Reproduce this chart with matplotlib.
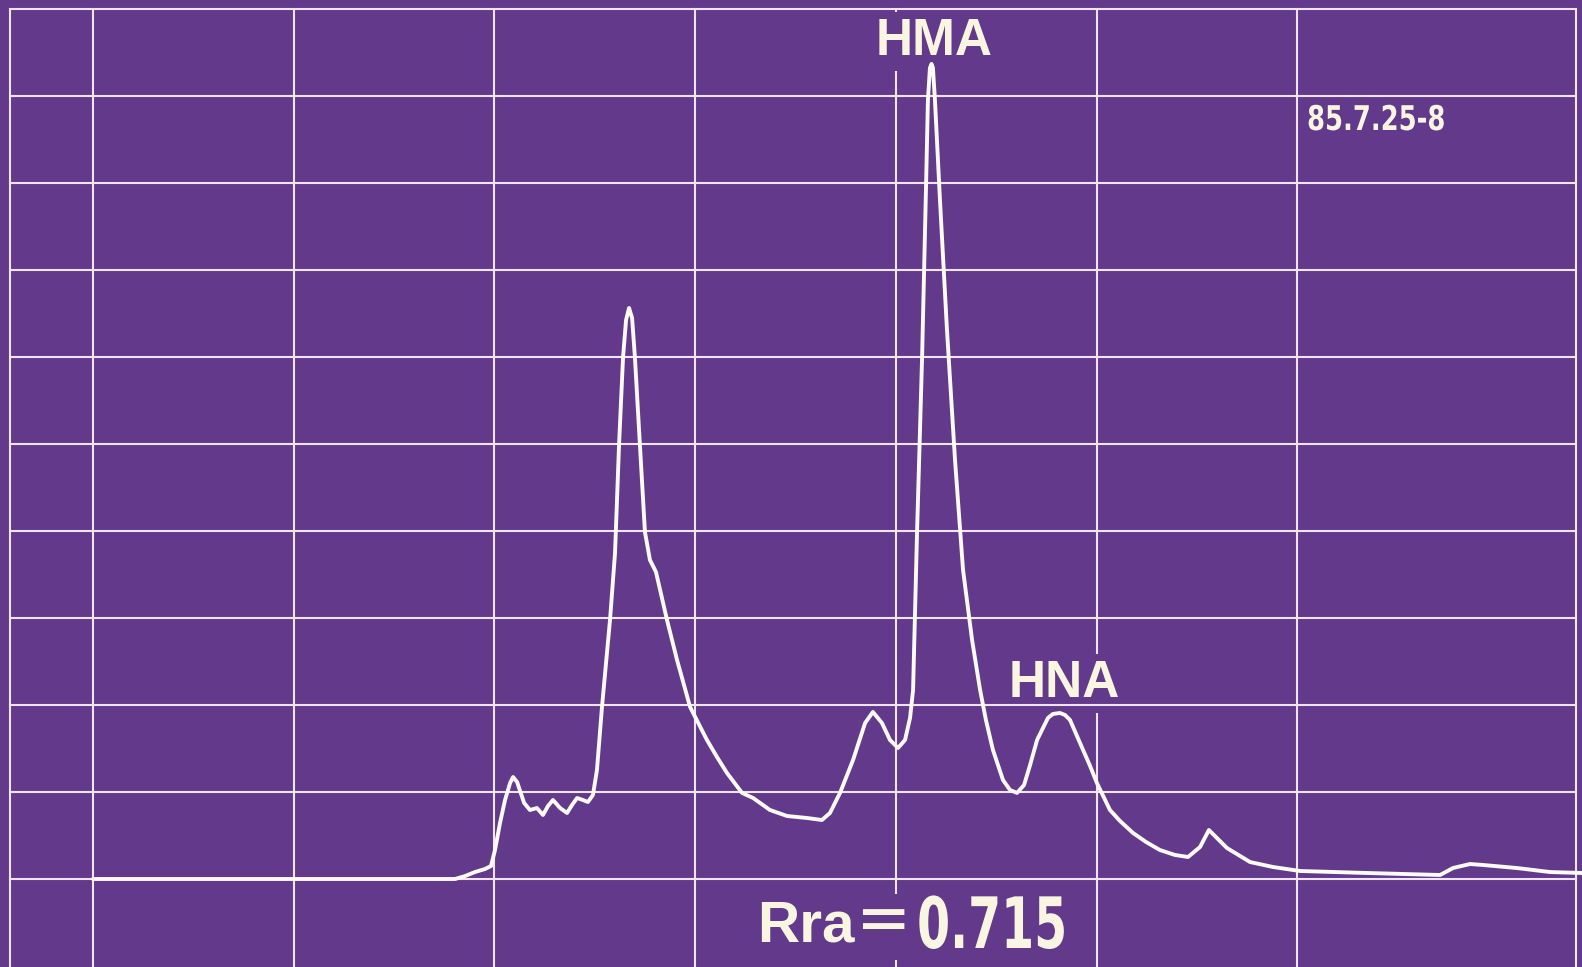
import matplotlib.pyplot as plt
from matplotlib.patheffects import AbstractPathEffect
from matplotlib.transforms import Affine2D

# chromatogram trace, in chart divisions (x: columns from first grid line, y: rows above baseline)
trace_x = [0.000, 1.804, 1.854, 1.903, 1.953, 1.983, 2.003, 2.028, 2.053, 2.078,
           2.093, 2.113, 2.148, 2.177, 2.212, 2.242, 2.267, 2.292, 2.327, 2.362,
           2.387, 2.412, 2.441, 2.466, 2.491, 2.511, 2.536, 2.576, 2.601, 2.621,
           2.641, 2.656, 2.671, 2.686, 2.700, 2.725, 2.750, 2.775, 2.805, 2.860,
           2.910, 2.975, 3.059, 3.109, 3.159, 3.234, 3.289, 3.373, 3.458, 3.558,
           3.632, 3.672, 3.722, 3.787, 3.847, 3.886, 3.931, 3.971, 4.011, 4.046,
           4.071, 4.086, 4.106, 4.131, 4.151, 4.160, 4.170, 4.178, 4.185, 4.195,
           4.220, 4.255, 4.295, 4.335, 4.380, 4.420, 4.449, 4.484, 4.534, 4.569,
           4.604, 4.639, 4.669, 4.704, 4.758, 4.783, 4.818, 4.843, 4.868, 4.933,
           4.968, 5.002, 5.067, 5.117, 5.182, 5.247, 5.316, 5.391, 5.456, 5.516,
           5.560, 5.600, 5.650, 5.765, 5.879, 6.014, 6.348, 6.712, 6.776, 6.861,
           6.926, 7.095, 7.260, 7.419]
trace_y = [0.000, 0.000, 0.034, 0.080, 0.115, 0.149, 0.333, 0.644, 0.908, 1.103,
           1.172, 1.115, 0.874, 0.793, 0.816, 0.736, 0.839, 0.908, 0.816, 0.759,
           0.851, 0.931, 0.908, 0.885, 0.966, 1.253, 1.977, 2.977, 3.747, 4.989,
           6.000, 6.425, 6.563, 6.448, 6.000, 4.989, 3.989, 3.667, 3.529, 2.977,
           2.517, 1.977, 1.598, 1.402, 1.218, 0.989, 0.931, 0.793, 0.724, 0.701,
           0.678, 0.759, 0.989, 1.368, 1.793, 1.920, 1.793, 1.598, 1.506, 1.598,
           1.851, 2.172, 4.000, 6.000, 8.000, 8.954, 9.322, 9.368, 9.322, 8.954,
           7.805, 6.310, 4.816, 3.552, 2.747, 2.172, 1.828, 1.483, 1.138, 1.023,
           0.989, 1.080, 1.310, 1.598, 1.851, 1.897, 1.908, 1.885, 1.828, 1.483,
           1.299, 1.103, 0.793, 0.667, 0.529, 0.425, 0.333, 0.276, 0.253, 0.368,
           0.563, 0.471, 0.356, 0.195, 0.138, 0.092, 0.069, 0.046, 0.126, 0.172,
           0.161, 0.126, 0.080, 0.069]

peak_labels = ['HMA', 'HNA']
peak_label_x = [4.19, 4.84]
peak_label_y = [9.471, 2.092]
sample_id = '85.7.25-8'
ratio_name = 'Rra＝'
ratio_value = '0.715'

bg = '#62398b'
grid_c = '#eee5ee'
ink = '#f8f5e1'


class Narrow(AbstractPathEffect):
    """Squeeze glyphs horizontally, like the recorder's condensed type."""
    def __init__(self, sx):
        super().__init__()
        self.sx = sx

    def draw_path(self, renderer, gc, tpath, affine, rgbFace=None):
        renderer.draw_path(gc, tpath, Affine2D().scale(self.sx, 1) + affine, rgbFace)


fig = plt.figure(figsize=(15.82, 9.67), dpi=100)
fig.patch.set_facecolor(bg)
ax = fig.add_axes([0, 0, 1, 1])
ax.set_facecolor(bg)
ax.set_xlim(-0.4634, 7.419)
ax.set_ylim(-1.0115, 10.103)
ax.axis('off')

# recorder paper grid: verticals sit under the label boxes, horizontals above them
left, right, top = -0.4136, 7.389, 10
for gy in range(0, 11):
    ax.plot([left, right], [gy, gy], color=grid_c, lw=1.5, zorder=2.5)
for gx in range(0, 7):
    ax.plot([gx, gx], [-1.1, top], color=grid_c, lw=1.5, zorder=1)
ax.plot([left, left], [-1.1, top], color=grid_c, lw=1.5, zorder=1)
ax.plot([right, right], [-1.1, top], color=grid_c, lw=1.5, zorder=1)

ax.plot(trace_x, trace_y, color='#fdfbf2', lw=2.8, solid_joinstyle='round',
        solid_capstyle='round', zorder=3)

box = dict(boxstyle='square,pad=0.1', facecolor=bg, edgecolor='none')
for lab, lx, ly in zip(peak_labels, peak_label_x, peak_label_y):
    ax.text(lx, ly, lab, ha='center', va='baseline', fontsize=37, fontweight='bold',
            family=['Liberation Sans', 'DejaVu Sans'], color=ink, bbox=box, zorder=2)

ax.text(6.049, 8.609, sample_id, ha='left', va='baseline', fontsize=24.5,
        fontweight='bold', family='DejaVu Sans', color=ink, zorder=2,
        path_effects=[Narrow(0.76)])

ax.text(3.308, -0.724, ratio_name, ha='left', va='baseline', fontsize=42,
        fontweight='bold', family=['Liberation Sans', 'Noto Sans CJK JP'],
        color=ink, bbox=box, zorder=2)
ax.text(4.106, -0.793, ratio_value, ha='left', va='baseline', fontsize=51,
        fontweight='bold', family='DejaVu Sans', color=ink, zorder=2,
        path_effects=[Narrow(0.67)])

fig.savefig('out.png', dpi=100, facecolor=bg)
